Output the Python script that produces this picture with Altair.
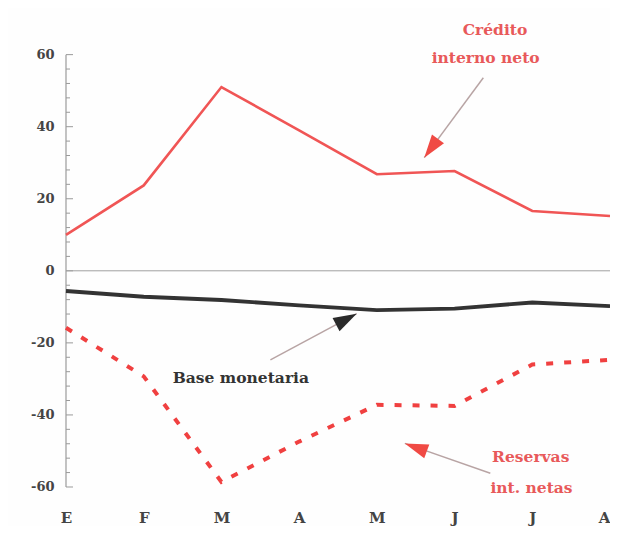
import altair as alt
import pandas as pd

months = ["E", "F", "M", "A", "M", "J", "J", "A"]
credito = [10, 23.7, 51, 39, 26.8, 27.7, 16.6, 15.2]
base = [-5.6, -7.2, -8.1, -9.6, -10.9, -10.5, -8.8, -9.8]
reservas = [-15.8, -29.3, -58.6, -47.4, -37.2, -37.5, -26, -24.7]

y_labels = [-60, -40, -20, 0, 20, 40, 60]
minor_ticks = [-56, -52, -48, -44, -36, -32, -28, -24, -16, -12, -8, -4,
               4, 8, 12, 16, 24, 28, 32, 36, 44, 48, 52, 56]

idx = list(range(len(months)))
df = pd.DataFrame({"i": idx, "credito": credito, "base": base, "reservas": reservas})

# annotation texts (x in month index units, y in data units)
labels = pd.DataFrame({
    "x": [5.52, 5.40, 2.25, 5.98, 5.99],
    "y": [66.9, 59.2, -29.7, -51.6, -60.2],
    "t": ["Crédito", "interno neto", "Base monetaria", "Reservas", "int. netas"],
    "c": ["#e8595a", "#e8595a", "#333333", "#e8595a", "#e8595a"],
})
arrows = pd.DataFrame({
    "x": [5.37, 2.63, 5.46],
    "y": [53.6, -24.7, -56.2],
    "x2": [4.61, 3.74, 4.36],
    "y2": [31.4, -11.9, -47.9],
    "ang": [216, 62, 290],
    "c": ["#f04a44", "#2a2a2a", "#f04a44"],
})

FONT = "DejaVu Serif"
label_expr = "[" + ",".join("'%s'" % m for m in months) + "][datum.value]"

xs = alt.Scale(domain=[0, 7], nice=False, zero=False)
ys = alt.Scale(domain=[-65, 71], nice=False, zero=False)

X = alt.X("i:Q", scale=xs, axis=alt.Axis(
    values=idx, labelExpr=label_expr, domain=False, ticks=False, grid=False, title=None,
    labelFont=FONT, labelFontSize=15, labelFontWeight="bold", labelColor="#444",
    labelPadding=5,
    labelAlign={"condition": {"test": "datum.value == 7", "value": "right"}, "value": "center"}))

base_chart = alt.Chart(df)

yaxis_labels = base_chart.mark_line(opacity=0).encode(
    x=X,
    y=alt.Y("credito:Q", scale=ys, axis=alt.Axis(
        values=y_labels, labelExpr="'' + datum.value", domain=False, ticks=False, grid=False,
        title=None, labelFont=FONT, labelFontSize=13, labelFontWeight="bold",
        labelColor="#444", labelPadding=12)),
)

axis_line = alt.Chart(pd.DataFrame({"a": [-60], "b": [60]})).mark_rule(color="#9a9a9a", strokeWidth=1.2).encode(
    x=alt.value(0), y=alt.Y("a:Q", scale=ys), y2="b:Q")

ticks_major = alt.Chart(pd.DataFrame({"v": y_labels})).mark_rule(color="#9a9a9a", strokeWidth=1).encode(
    x=alt.value(0), x2=alt.value(7), y=alt.Y("v:Q", scale=ys))
ticks_minor = alt.Chart(pd.DataFrame({"v": minor_ticks})).mark_rule(color="#9a9a9a", strokeWidth=1).encode(
    x=alt.value(0), x2=alt.value(4), y=alt.Y("v:Q", scale=ys))

zero_line = alt.Chart(pd.DataFrame({"y": [0], "a": [0], "b": [7]})).mark_rule(color="#a0a0a0", strokeWidth=1).encode(
    x=alt.X("a:Q", scale=xs), x2="b:Q", y=alt.Y("y:Q", scale=ys))

l_credito = base_chart.mark_line(color="#f05555", strokeWidth=2.6).encode(
    x=alt.X("i:Q", scale=xs), y=alt.Y("credito:Q", scale=ys))
l_base = base_chart.mark_line(color="#333333", strokeWidth=3.8).encode(
    x=alt.X("i:Q", scale=xs), y=alt.Y("base:Q", scale=ys))
l_res = base_chart.mark_line(color="#f04040", strokeWidth=4, strokeDash=[7, 11]).encode(
    x=alt.X("i:Q", scale=xs), y=alt.Y("reservas:Q", scale=ys))

texts = alt.Chart(labels).mark_text(font=FONT, fontSize=15.5, fontWeight="bold", baseline="middle").encode(
    x=alt.X("x:Q", scale=xs), y=alt.Y("y:Q", scale=ys), text="t:N", color=alt.Color("c:N", scale=None))

shafts = alt.Chart(arrows).mark_rule(color="#b8a4a4", strokeWidth=1.5).encode(
    x=alt.X("x:Q", scale=xs), y=alt.Y("y:Q", scale=ys), x2="x2:Q", y2="y2:Q")

heads = alt.Chart(arrows).mark_point(shape="M0,0L0.7,2.2L-0.7,2.2Z", filled=True, size=450, opacity=1).encode(
    x=alt.X("x2:Q", scale=xs), y=alt.Y("y2:Q", scale=ys),
    angle=alt.Angle("ang:Q", scale=None), color=alt.Color("c:N", scale=None))

chart = alt.layer(yaxis_labels, axis_line, ticks_major, ticks_minor, zero_line, l_res, l_base, l_credito,
                  shafts, heads, texts).properties(
    width=544, height=490,
    autosize=alt.AutoSizeParams(type="none"),
    padding={"left": 58, "top": 7, "right": 0, "bottom": 21},
    background="#fefefe",
).configure_view(stroke=None)

chart.save("out.html", embed_options={"renderer": "svg", "actions": False})
